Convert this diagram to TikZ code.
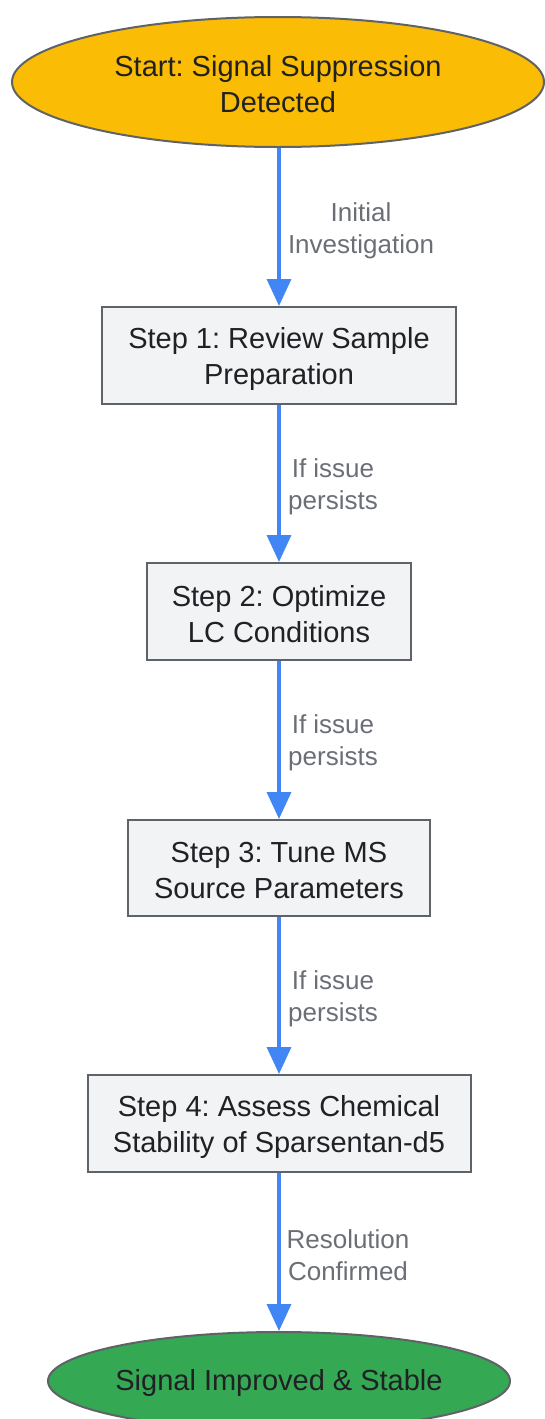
\documentclass[tikz,border=0pt]{standalone}
\usepackage{fontspec}
\setmainfont{Liberation Sans}
\frenchspacing
\usetikzlibrary{shapes.geometric,arrows.meta}
\definecolor{startc}{HTML}{FBBC05}
\definecolor{endc}{HTML}{34A853}
\definecolor{boxc}{HTML}{F1F3F4}
\definecolor{edgec}{HTML}{5F6368}
\definecolor{txtc}{HTML}{202124}
\definecolor{arrc}{HTML}{4285F4}
\definecolor{lblc}{HTML}{6B6F75}
\tikzset{
  nodetext/.style={text=txtc, align=center, inner sep=0pt,
    font=\fontsize{29pt}{36pt}\selectfont},
  oval/.style={ellipse, draw=edgec, line width=2pt, inner sep=0pt},
  stepbox/.style={rectangle, draw=edgec, fill=boxc, line width=2pt, inner sep=0pt},
  flow/.style={draw=arrc, line width=3.5pt, -{Triangle[width=24pt,length=27pt]}},
  lbl/.style={text=lblc, align=center, inner sep=0pt,
    font=\fontsize{26pt}{32pt}\selectfont}
}
\begin{document}
\begin{tikzpicture}[x=1pt,y=-1pt]
\useasboundingbox (0,0) rectangle (545,1419);
\node[oval, fill=startc, minimum width=532pt, minimum height=130pt] (start) at (278,82) {};
\node[stepbox, minimum width=354pt, minimum height=97pt] (s1) at (279,355.5) {};
\node[stepbox, minimum width=264pt, minimum height=97pt] (s2) at (279,611.5) {};
\node[stepbox, minimum width=302pt, minimum height=96pt] (s3) at (279,868) {};
\node[stepbox, minimum width=383pt, minimum height=97pt] (s4) at (279,1123.5) {};
\node[oval, fill=endc, minimum width=462pt, minimum height=98pt] (end) at (279,1381) {};

\node[nodetext] (startt) at ([yshift=-2.5pt]start.center) {Start: Signal Suppression\\Detected};
\node[nodetext] (s1t) at ([yshift=-3pt]s1.center) {Step 1: Review Sample\\Preparation};
\node[nodetext] (s2t) at ([yshift=-3pt]s2.center) {Step 2: Optimize\\LC Conditions};
\node[nodetext] (s3t) at ([yshift=-3pt]s3.center) {Step 3: Tune MS\\Source Parameters};
\node[nodetext] (s4t) at ([yshift=-3pt]s4.center) {Step 4: Assess Chemical\\Stability of Sparsentan-d5};
\node[nodetext] (endt) at ([yshift=-1.5pt]end.center) {Signal Improved \& Stable};

\draw[flow] (s1.north |- start.south) -- (s1.north);
\draw[flow] (s1.south) -- (s2.north);
\draw[flow] (s2.south) -- (s3.north);
\draw[flow] (s3.south) -- (s4.north);
\draw[flow] (s4.south) -- (end.north);

\node[lbl] (l0) at (361,231) {Initial\\Investigation};
\node[lbl] (l1) at (333,487) {If issue\\persists};
\node[lbl] (l2) at (333,743) {If issue\\persists};
\node[lbl] (l3) at (333,999) {If issue\\persists};
\node[lbl] (l4) at (348,1255) {Resolution\\Confirmed};
\end{tikzpicture}
\end{document}
